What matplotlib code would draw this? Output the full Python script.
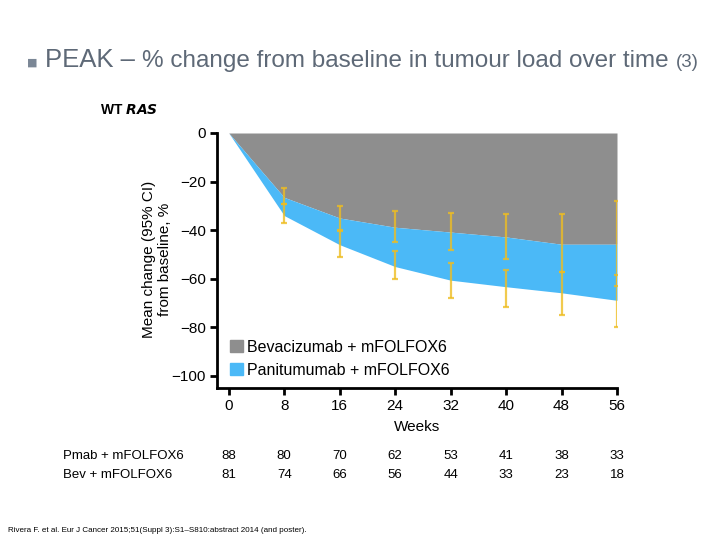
import numpy as np
import matplotlib
matplotlib.use("Agg")
import matplotlib.pyplot as plt
from matplotlib.patches import Patch

plt.rcParams['font.family'] = ['Liberation Sans', 'DejaVu Sans']

# data
weeks = [0, 8, 16, 24, 32, 40, 48, 56]
bev_mean = [0, -26.5, -35.0, -38.8, -40.8, -42.8, -45.8, -45.8]
pmab_mean = [0, -34.0, -46.0, -55.0, -60.6, -63.3, -65.8, -68.9]

ci_weeks = [8, 16, 24, 32, 40, 48, 56]
bev_ci_hi = [-22.8, -30.1, -32.2, -32.9, -33.3, -33.3, -27.9]
bev_ci_lo = [-29.4, -40.0, -44.8, -48.2, -52.0, -57.4, -63.1]
pmab_ci_hi = [-29.4, -40.5, -48.7, -53.5, -56.5, -57.4, -58.6]
pmab_ci_lo = [-37.0, -51.0, -60.3, -67.9, -71.6, -75.0, -79.9]

at_risk_labels = ['Pmab + mFOLFOX6', 'Bev + mFOLFOX6']
pmab_n = [88, 80, 70, 62, 53, 41, 38, 33]
bev_n = [81, 74, 66, 56, 44, 33, 23, 18]

grey = '#8e8e8e'
blue = '#4bb9f7'
yellow = '#eebd22'
title_col = '#5e6977'

fig = plt.figure(figsize=(7.2, 5.4), dpi=100)
ax = fig.add_axes([217/720, 1 - 388/540, 400/720, 255/540])

ax.fill_between(weeks, 0, bev_mean, color=grey, lw=0)
ax.fill_between(weeks, bev_mean, pmab_mean, color=blue, lw=0)

def draw_ci(hi, lo):
    hi = np.array(hi)
    lo = np.array(lo)
    mid = (hi + lo) / 2
    ax.errorbar(ci_weeks, mid, yerr=[mid - lo, hi - mid], fmt='none',
                ecolor=yellow, elinewidth=1.6, capsize=2.2, capthick=1.6,
                alpha=0.8)

draw_ci(bev_ci_hi, bev_ci_lo)
draw_ci(pmab_ci_hi, pmab_ci_lo)

ax.set_xlim(-1.7, 56)
ax.set_ylim(-105, 0)
ax.set_xticks(weeks)
ax.set_yticks([0, -20, -40, -60, -80, -100])
ax.set_yticklabels(['0', '\u221220', '\u221240', '\u221260', '\u221280', '\u2212100'])
for s in ['top', 'right']:
    ax.spines[s].set_visible(False)
ax.spines['left'].set_bounds(-105, 0)
ax.spines['bottom'].set_bounds(-1.7, 56)
for s in ['left', 'bottom']:
    ax.spines[s].set_linewidth(2)
ax.tick_params(width=2, length=5, labelsize=11, pad=3)
ax.set_xlabel('Weeks', fontsize=11, labelpad=5)

fig.text(157/720, 1 - 259/540, 'Mean change (95% CI)\nfrom baseline, %',
         rotation=90, ha='center', va='center', fontsize=11, linespacing=1.1)

handles = [Patch(color=grey, label='Bevacizumab + mFOLFOX6'),
           Patch(color=blue, label='Panitumumab + mFOLFOX6')]
ax.legend(handles=handles, loc='upper left', bbox_to_anchor=(0.032, 0.19),
          frameon=False, fontsize=11.5, handlelength=0.8, handleheight=0.8,
          handletextpad=0.3, labelspacing=0.5, borderpad=0, borderaxespad=0)

# numbers at risk
for row, (lab, vals) in enumerate(zip(at_risk_labels, [pmab_n, bev_n])):
    yy = 1 - (456 + row * 19) / 540
    fig.text(63/720, yy, lab, fontsize=9.5, va='center', ha='left')
    for w, v in zip(weeks, vals):
        ax.annotate(str(v), xy=(w, yy), xycoords=('data', 'figure fraction'),
                    fontsize=9.5, va='center', ha='center')

# title line
fig.text(100/720, 1 - 110/540, r'WT $\mathbfit{RAS}$', fontsize=10,
         fontweight='bold', va='center')

fig.text(27/720, 1 - 66/540, '\u25a0', fontsize=8, color='#7b8796',
         va='baseline', family=['DejaVu Sans'])
pieces = [('PEAK \u2013 ', 18.5), ('% change from baseline in tumour load over time ', 17.5),
          ('(3)', 13.5)]
x = 45/720
fig.canvas.draw()
r = fig.canvas.get_renderer()
for txt, size in pieces:
    t = fig.text(x, 1 - 67/540, txt, fontsize=size, color=title_col, va='baseline')
    bb = t.get_window_extent(r)
    x = bb.x1 / fig.bbox.width

fig.text(8/720, 1 - 530/540,
         'Rivera F. et al. Eur J Cancer 2015;51(Suppl 3):S1\u2013S810:abstract 2014 (and poster).',
         fontsize=5.8, va='center')

fig.savefig('out.png', dpi=100)
